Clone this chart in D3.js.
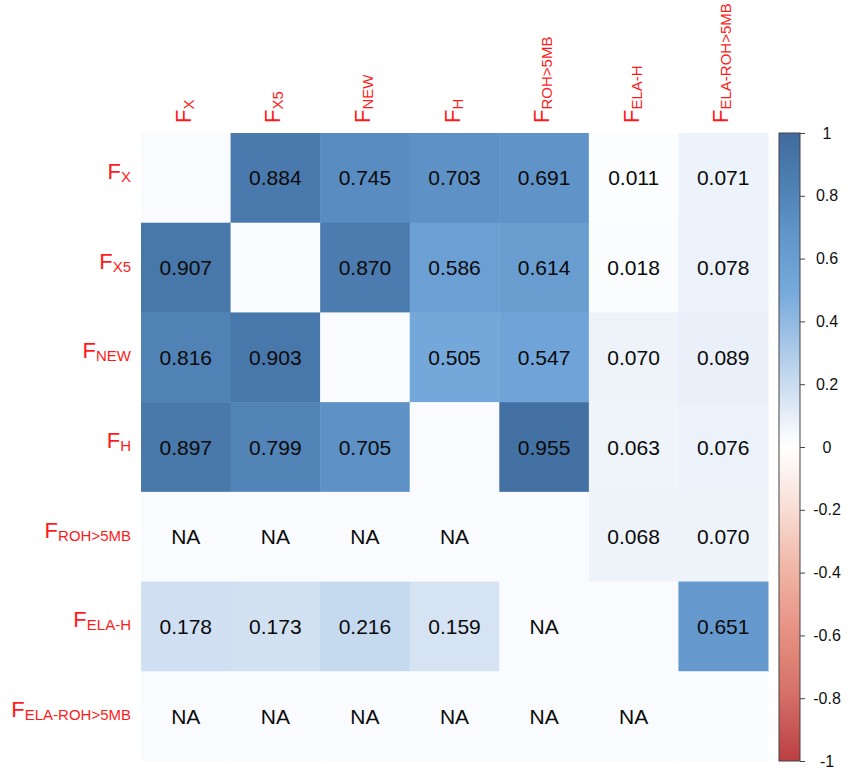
<!DOCTYPE html>
<html>
<head>
<meta charset="utf-8">
<script src="https://cdn.jsdelivr.net/npm/d3@7"></script>
<style>
  body { margin: 0; background: #fff; }
  text { font-family: "Liberation Sans", Arial, Helvetica, sans-serif; }
</style>
</head>
<body>
<svg class="chart"></svg>
<script>
// variable names (subscript part of F)
var names = ["X", "X5", "NEW", "H", "ROH>5MB", "ELA-H", "ELA-ROH>5MB"];

// one array per row, null = NA (diagonal left blank)
var row_x      = [null, 0.884, 0.745, 0.703, 0.691, 0.011, 0.071];
var row_x5     = [0.907, null, 0.870, 0.586, 0.614, 0.018, 0.078];
var row_new    = [0.816, 0.903, null, 0.505, 0.547, 0.070, 0.089];
var row_h      = [0.897, 0.799, 0.705, null, 0.955, 0.063, 0.076];
var row_roh    = [null, null, null, null, null, 0.068, 0.070];
var row_elah   = [0.178, 0.173, 0.216, 0.159, null, null, 0.651];
var row_elaroh = [null, null, null, null, null, null, null];

var rows = [row_x, row_x5, row_new, row_h, row_roh, row_elah, row_elaroh];

// colour bar ticks
var barTicks = [1, 0.8, 0.6, 0.4, 0.2, 0, -0.2, -0.4, -0.6, -0.8, -1];

var W = 848, H = 768;
var svg = d3.select(".chart").attr("width", W).attr("height", H);

// build cell list from the rows
var cells = [];
rows.forEach(function(r, i){
	r.forEach(function(v, j){
		cells.push({row: i, col: j, value: v});
	});
});

var x = d3.scaleBand().domain(d3.range(names.length)).range([141, 768]);
var y = d3.scaleBand().domain(d3.range(names.length)).range([133, 761]);

// corrplot-like palette
var color = d3.scaleLinear()
	.domain([-1, -0.8, -0.6, -0.4, -0.2, 0, 0.1, 0.2, 0.35, 0.5, 0.65, 0.8, 1])
	.range(["#bb3e42", "#d36d66", "#e58f80", "#f0b3a3", "#f8ddd4", "#ffffff",
	        "#e6eef8", "#cadcf0", "#9fc2e6", "#75a8db", "#6599cd", "#5284b8", "#3f6b9e"])
	.clamp(true);

var naFill = "#fafbfe";

// cells
svg.append("g").selectAll("rect")
	.data(cells)
	.enter()
	.append("rect")
	.attr("x", function(d){ return x(d.col); })
	.attr("y", function(d){ return y(d.row); })
	.attr("width", x.bandwidth() + 0.5)
	.attr("height", y.bandwidth() + 0.5)
	.attr("fill", function(d){
		return d.value === null ? naFill : color(d.value);
	});

// cell text
svg.append("g").selectAll("text")
	.data(cells.filter(function(d){ return d.row !== d.col; }))
	.enter()
	.append("text")
	.attr("x", function(d){ return x(d.col) + x.bandwidth() / 2; })
	.attr("y", function(d){ return y(d.row) + y.bandwidth() / 2 + 7.5; })
	.attr("text-anchor", "middle")
	.attr("font-size", 21)
	.attr("fill", "#0a0a0a")
	.text(function(d){ return d.value === null ? "NA" : d.value.toFixed(3); });

// F with subscript
function fLabel(sel){
	sel.append("tspan").attr("font-size", 22).text("F");
	sel.append("tspan").attr("font-size", 15).attr("dy", 3)
		.text(function(d){ return d; });
}

// row labels
svg.append("g").selectAll("text")
	.data(names)
	.enter()
	.append("text")
	.attr("x", 131)
	.attr("y", function(d, i){ return y(i) + y.bandwidth() / 2 + 1; })
	.attr("text-anchor", "end")
	.attr("fill", "#ff1a1a")
	.call(fLabel);

// column labels (rotated)
svg.append("g").selectAll("text")
	.data(names)
	.enter()
	.append("text")
	.attr("transform", function(d, i){
		return "translate(" + (x(i) + x.bandwidth() / 2 + 5) + ",123) rotate(-90)";
	})
	.attr("text-anchor", "start")
	.attr("fill", "#ff1a1a")
	.call(fLabel);

// colour bar
var barX = 779, barW = 21;
var yBar = d3.scaleLinear().domain([-1, 1]).range([761, 133]);

var grad = svg.append("defs").append("linearGradient")
	.attr("id", "cbar")
	.attr("x1", 0).attr("y1", 1).attr("x2", 0).attr("y2", 0);
grad.selectAll("stop")
	.data(d3.range(-1, 1.001, 0.05))
	.enter()
	.append("stop")
	.attr("offset", function(d){ return (d + 1) / 2; })
	.attr("stop-color", function(d){ return color(d); });

svg.append("rect")
	.attr("x", barX)
	.attr("y", yBar(1))
	.attr("width", barW)
	.attr("height", yBar(-1) - yBar(1))
	.attr("fill", "url(#cbar)")
	.attr("stroke", "#444")
	.attr("stroke-width", 1);

var barAxis = svg.append("g")
	.attr("transform", "translate(" + (barX + barW) + ",0)")
	.call(d3.axisRight(yBar)
		.tickValues(barTicks)
		.tickSize(5)
		.tickFormat(function(d){ return String(d); }));
barAxis.select(".domain").remove();
barAxis.selectAll("line").attr("stroke", "#444");
barAxis.attr("font-size", 16).attr("font-family", "Liberation Sans, Arial, sans-serif");
barAxis.selectAll("text")
	.attr("x", 27)
	.attr("text-anchor", "middle")
	.attr("fill", "#111");
</script>
</body>
</html>
